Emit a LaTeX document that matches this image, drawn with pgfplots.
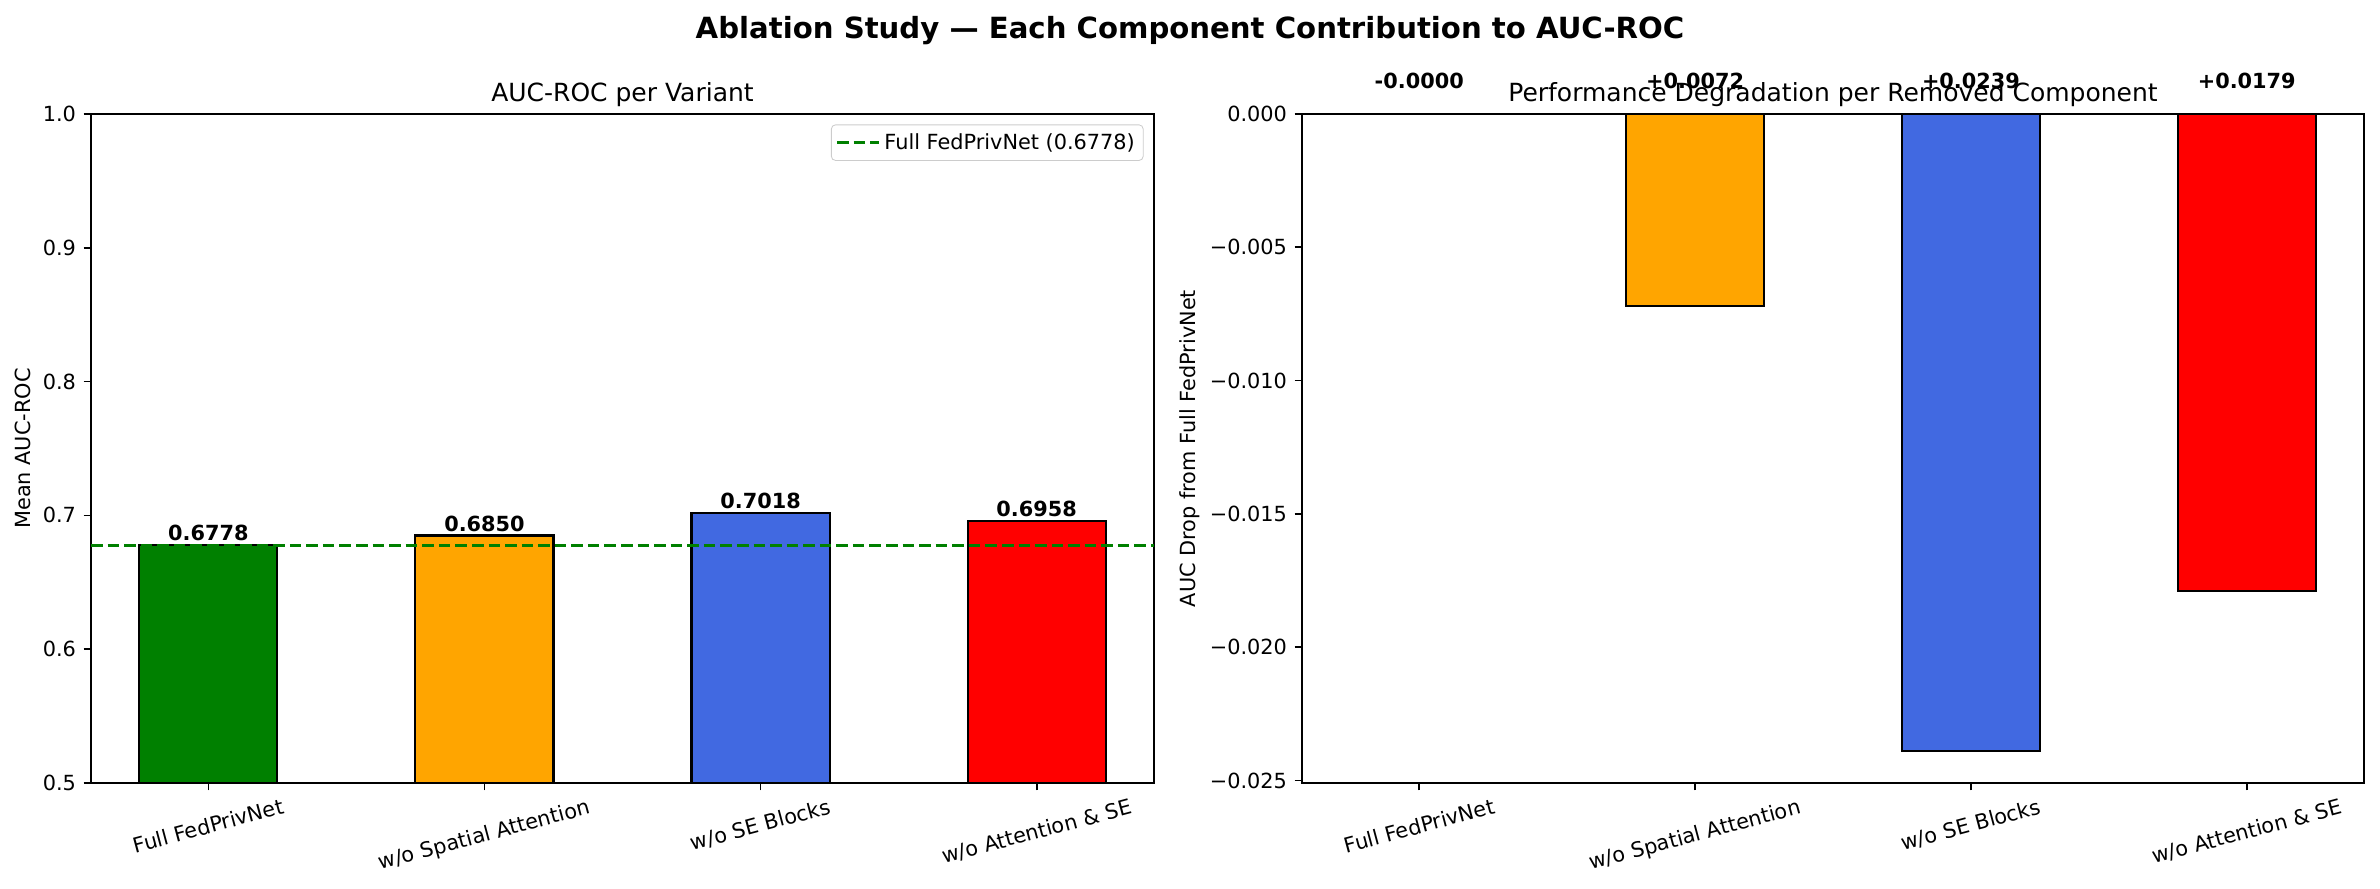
\documentclass[border=0pt]{standalone}
\usepackage{fontspec}
\setmainfont{DejaVu Sans}
\usepackage{graphicx}
\usepackage{pgfplots}
\pgfplotsset{compat=1.18}
\definecolor{mgreen}{RGB}{0,128,0}
\definecolor{morange}{RGB}{255,165,0}
\definecolor{mblue}{RGB}{65,105,225}
\definecolor{mred}{RGB}{255,0,0}
\pgfplotsset{
  common/.style={
    scale only axis, width=510.24pt, height=321.12pt,
    xmin=-0.425, xmax=3.425,
    xtick={0,1,2,3},
    xticklabels={\rotatebox{15}{Full FedPrivNet}, \rotatebox{15}{w/o Spatial Attention}, \rotatebox{15}{w/o SE Blocks}, \rotatebox{15}{w/o Attention \& SE}},
    xticklabel style={anchor=north, inner sep=0pt, yshift=-3.5pt},
    yticklabel style={anchor=east, inner sep=0pt, xshift=-3.5pt},
    tick align=outside, major tick length=3.5pt, xtick pos=bottom, ytick pos=left,
    tick style={line width=0.8pt, black},
    axis line style={line width=0.8pt},
    font=\fontsize{10}{12}\selectfont,
    ticklabel style={font=\fontsize{10}{12}\selectfont},
    title style={font=\fontsize{12}{14}\selectfont, at={(0.5,1)}, anchor=base},
    label style={font=\fontsize{10}{12}\selectfont},
    scaled y ticks=false,
    /pgf/number format/assume math mode=true,
  },
  barst/.style={ybar, bar width=0.5, bar shift=0pt, draw=black, line width=1pt, forget plot},
}
\begin{document}
\begin{tikzpicture}
\path[use as bounding box] (-43.68pt,-50.4pt) rectangle (1098.72pt,375.84pt);
\begin{axis}[common,
  title={AUC-ROC per Variant},
  ylabel={Mean AUC-ROC},
  ylabel style={at={(axis description cs:-0.064,0.5)}, anchor=center},
  ymin=0.5, ymax=1.0,
  ytick={0.5,0.6,0.7,0.8,0.9,1.0},
  yticklabels={0.5,0.6,0.7,0.8,0.9,1.0},
  nodes near coords style={font=\bfseries\fontsize{10}{12}\selectfont, anchor=south, inner sep=0pt, yshift=1.5pt},
  legend style={at={(1,1)}, anchor=north east, xshift=-5pt, yshift=-5pt, draw=black!20, rounded corners=2pt, font=\fontsize{10}{12}\selectfont, inner sep=2pt},
  legend cell align=left,
  legend image code/.code={\draw[#1] (0pt,0pt) -- (20pt,0pt);},
]
\addplot[barst, fill=mgreen, nodes near coords, point meta=explicit symbolic] coordinates {(0,0.6778) [0.6778]};
\addplot[barst, fill=morange, nodes near coords, point meta=explicit symbolic] coordinates {(1,0.6850) [0.6850]};
\addplot[barst, fill=mblue, nodes near coords, point meta=explicit symbolic] coordinates {(2,0.7018) [0.7018]};
\addplot[barst, fill=mred, nodes near coords, point meta=explicit symbolic] coordinates {(3,0.6958) [0.6958]};
\addplot[mgreen, line width=1.5pt, dash pattern=on 5.55pt off 2.4pt] coordinates {(-0.425,0.6778) (3.425,0.6778)};
\addlegendentry{Full FedPrivNet (0.6778)}
\end{axis}
\begin{axis}[common, at={(581.28pt,0pt)}, anchor=south west, width=509.76pt,
  title={Performance Degradation per Removed Component},
  ylabel={AUC Drop from Full FedPrivNet},
  ylabel style={at={(axis description cs:-0.1055,0.5)}, anchor=center},
  ymin=-0.025095, ymax=0,
  ytick={-0.025,-0.02,-0.015,-0.01,-0.005,0},
  yticklabels={−0.025,−0.020,−0.015,−0.010,−0.005,0.000},
  clip=false,
]
\addplot[barst, fill=mgreen] coordinates {(0,-0.00000)};
\addplot[barst, fill=morange] coordinates {(1,-0.0072)};
\addplot[barst, fill=mblue] coordinates {(2,-0.0239)};
\addplot[barst, fill=mred] coordinates {(3,-0.0179)};
\addplot[draw=none, mark=none, forget plot, nodes near coords, point meta=explicit symbolic,
  nodes near coords style={font=\bfseries\fontsize{10}{12}\selectfont, anchor=south, inner sep=0pt}]
  coordinates {(0,0.00094) [-0.0000] (1,0.00094) [+0.0072] (2,0.00094) [+0.0239] (3,0.00094) [+0.0179]};
\end{axis}
\node[font=\bfseries\fontsize{14}{17}\selectfont, anchor=base] at (527.5pt,357.3pt) {Ablation Study — Each Component Contribution to AUC-ROC};
\end{tikzpicture}
\end{document}
